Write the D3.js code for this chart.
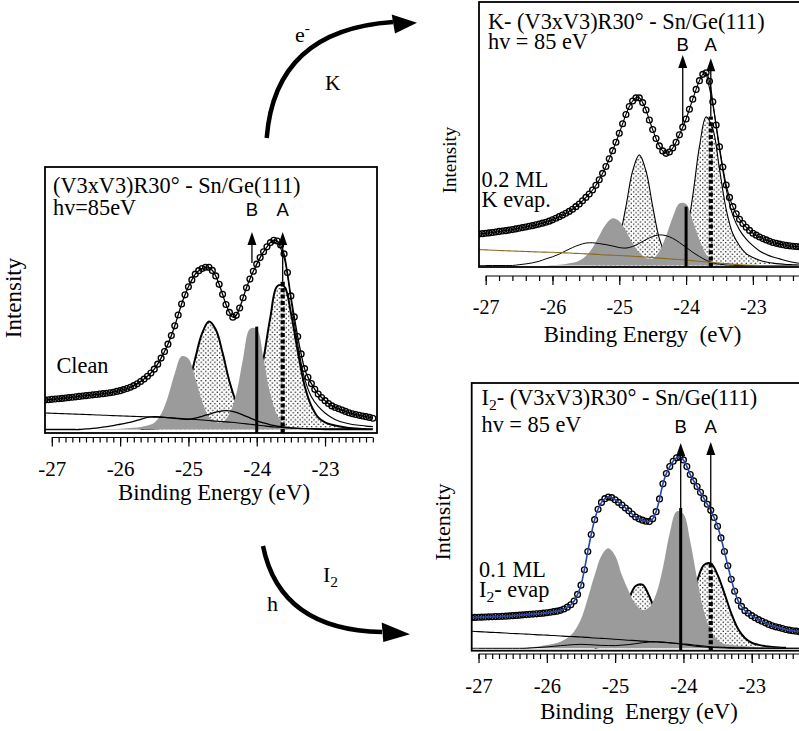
<!DOCTYPE html>
<html lang="en">
<head>
<meta charset="utf-8">
<style>
  body { margin: 0; background: #fff; }
  svg { display: block; }
</style>
</head>
<body>
<svg width="799" height="731"></svg>
<script src="https://d3js.org/d3.v7.min.js"></script>
<script>
var SERIF = '"Liberation Serif", "DejaVu Serif", "Times New Roman", serif';
var SANS = '"Liberation Sans", Arial, sans-serif';

// binding energy grid (eV) of the fitted components, one value per 0.1 eV
var energy = [-27.1, -27.0, -26.9, -26.8, -26.7, -26.6, -26.5, -26.4, -26.3, -26.2,
  -26.1, -26.0, -25.9, -25.8, -25.7, -25.6, -25.5, -25.4, -25.3, -25.2,
  -25.1, -25.0, -24.9, -24.8, -24.7, -24.6, -24.5, -24.4, -24.3, -24.2,
  -24.1, -24.0, -23.9, -23.8, -23.7, -23.6, -23.5, -23.4, -23.3, -23.2,
  -23.1, -23.0, -22.9, -22.8, -22.7, -22.6, -22.5, -22.4, -22.3];
// measured points are denser: one per 0.05 eV
var dataEnergy = [-27.1, -27.05, -27.0, -26.95, -26.9, -26.85, -26.8, -26.75, -26.7, -26.65,
  -26.6, -26.55, -26.5, -26.45, -26.4, -26.35, -26.3, -26.25, -26.2, -26.15,
  -26.1, -26.05, -26.0, -25.95, -25.9, -25.85, -25.8, -25.75, -25.7, -25.65,
  -25.6, -25.55, -25.5, -25.45, -25.4, -25.35, -25.3, -25.25, -25.2, -25.15,
  -25.1, -25.05, -25.0, -24.95, -24.9, -24.85, -24.8, -24.75, -24.7, -24.65,
  -24.6, -24.55, -24.5, -24.45, -24.4, -24.35, -24.3, -24.25, -24.2, -24.15,
  -24.1, -24.05, -24.0, -23.95, -23.9, -23.85, -23.8, -23.75, -23.7, -23.65,
  -23.6, -23.55, -23.5, -23.45, -23.4, -23.35, -23.3, -23.25, -23.2, -23.15,
  -23.1, -23.05, -23.0, -22.95, -22.9, -22.85, -22.8, -22.75, -22.7, -22.65,
  -22.6, -22.55, -22.5, -22.45, -22.4, -22.35, -22.3];
// the right-hand envelope line only exists from -23.7 eV on
var envEnergy = [-23.7, -23.6, -23.5, -23.4, -23.3, -23.2, -23.1, -23.0, -22.9, -22.8, -22.7, -22.6, -22.5, -22.4, -22.3];

// clean surface (intensity, a.u.)
var cleanData = [11.2, 11.35, 11.5, 11.6, 11.7, 11.85, 12.0, 12.15, 12.3, 12.45,
  12.6, 12.75, 12.9, 13.05, 13.2, 13.35, 13.5, 13.65, 13.8, 14.0,
  14.2, 14.5, 14.8, 15.2, 15.6, 16.1, 16.7, 17.4, 18.3, 19.2,
  20.3, 21.5, 23.0, 24.9, 27.2, 29.7, 32.5, 35.8, 39.5, 43.6,
  47.8, 51.3, 54.4, 57.0, 59.2, 60.5, 61.3, 61.8, 61.8, 60.6,
  58.5, 55.3, 51.5, 47.6, 44.6, 42.8, 43.5, 46.3, 50.2, 54.0,
  57.3, 60.3, 63.0, 65.5, 67.7, 69.6, 71.2, 72.1, 71.8, 70.3,
  66.9, 59.8, 50.9, 42.9, 35.4, 28.8, 23.2, 19.9, 17.5, 15.3,
  13.5, 12.2, 11.0, 9.9, 9.0, 8.4, 7.9, 7.4, 6.9, 6.4,
  6.0, 5.7, 5.4, 5.15, 4.9, 4.6, 4.3];
var cleanGray = [0, 0, 0, 0, 0, 0, 0, 0, 0.1, 0.15, 0.2, 0.3, 0.5, 0.7, 1.0, 1.5, 2.6, 5.9, 12.5, 21.3,
  27.9, 27.0, 19.6, 10.8, 4.9, 3.0, 2.8, 6.0, 13.6, 27.0, 38.3, 38.3, 27.0, 13.4, 5.5, 2.0, 1.0, 0.6, 0.4, 0.3,
  0.2, 0.1, 0, 0, 0, 0, 0, 0, 0];
var cleanDots = [0, 0, 0, 0, 0, 0, 0, 0, 0, 0, 0, 0, 0.1, 0.1, 0.2, 0.3, 0.4, 0.7, 1.7, 4.0,
  8.2, 16.4, 27.1, 36.6, 41.1, 38.1, 29.2, 18.4, 10.6, 6.8, 7.5, 13.9, 27.0, 42.8, 54.6, 54.6, 44.5, 29.8, 16.8, 9.0,
  4.6, 2.7, 1.8, 1.2, 0.8, 0.5, 0.3, 0.2, 0.1];
var cleanThird = [0, 0, 0, 0, 0, 0, 0.2, 0.4, 0.7, 1.1, 1.5, 2.0, 2.5, 3.1, 3.9, 4.6, 4.9, 4.8, 4.5, 4.2,
  4.0, 3.9, 4.3, 5.0, 5.8, 6.6, 7.1, 7.1, 6.5, 5.5, 4.4, 3.3, 2.5, 1.8, 1.3, 0.9, 0.6, 0.4, 0.3, 0.2,
  0.1, 0, 0, 0, 0, 0, 0, 0, 0];
var cleanBg = [6.3, 6.2, 6.1, 6.0, 5.9, 5.8, 5.7, 5.6, 5.5, 5.4, 5.3, 5.2, 5.1, 5.0, 4.9, 4.8, 4.7, 4.6, 4.5, 4.4,
  4.2, 4.0, 3.8, 3.6, 3.4, 3.2, 3.0, 2.8, 2.6, 2.3, 2.0, 1.7, 1.4, 1.1, 0.9, 0.7, 0.55, 0.45, 0.4, 0.35,
  0.3, 0.3, 0.3, 0.3, 0.3, 0.3, 0.3, 0.3, 0.3];
var cleanEnv = [71.8, 65.5, 49.5, 32.5, 19.5, 12.5, 8.8, 6.3, 4.5, 3.2, 2.5, 1.9, 1.6, 1.3, 1.1];

// 0.2 ML K
var kData = [11.9, 12.05, 12.2, 12.35, 12.5, 12.7, 12.9, 13.05, 13.2, 13.4,
  13.6, 13.85, 14.1, 14.35, 14.6, 14.85, 15.1, 15.4, 15.7, 16.05,
  16.4, 16.8, 17.3, 17.9, 18.5, 19.1, 19.8, 20.5, 21.3, 22.3,
  23.3, 24.5, 25.8, 27.1, 28.6, 30.4, 32.5, 34.9, 37.5, 40.4,
  43.5, 46.7, 50.1, 53.7, 57.2, 60.2, 62.3, 63.5, 63.5, 61.7,
  58.9, 55.1, 51.5, 48.1, 45.3, 43.4, 42.5, 43.0, 44.5, 46.7,
  49.5, 52.4, 55.5, 59.2, 63.0, 66.7, 70.0, 72.4, 73.0, 69.8,
  62.0, 53.2, 45.0, 37.3, 30.5, 25.8, 22.3, 19.6, 17.5, 15.9,
  14.5, 13.3, 12.2, 11.5, 10.8, 10.2, 9.7, 9.2, 8.7, 8.4,
  8.1, 7.85, 7.6, 7.45, 7.3, 7.2, 7.1];
var kGray = [0, 0, 0, 0, 0, 0, 0, 0, 0, 0, 0, 0.2, 0.3, 0.6, 1.0, 1.8, 3.6, 6.7, 11.3, 15.6,
  17.9, 16.8, 13.1, 8.4, 4.9, 2.8, 2.6, 5.4, 11.2, 18.3, 23.5, 23.3, 16.9, 9.8, 4.3, 1.5, 0.4, 0.1, 0, 0,
  0, 0, 0, 0, 0, 0, 0, 0, 0];
var kDots = [0, 0, 0, 0, 0, 0, 0, 0, 0, 0, 0, 0, 0, 0, 0, 0, 0, 0.1, 0.4, 1.1,
  3.7, 10.2, 22.4, 35.8, 41.9, 35.8, 22.4, 10.2, 4.1, 2.3, 4.3, 11.5, 26.4, 45.0, 56.3, 51.8, 36.6, 21.3, 12.0, 7.5,
  4.5, 3.0, 2.0, 1.3, 0.9, 0.6, 0.4, 0.3, 0.2];
var kThird = [0, 0, 0, 0, 0, 0, 0.3, 0.6, 1.0, 1.6, 2.5, 3.3, 4.3, 5.6, 6.8, 7.8, 8.5, 8.6, 8.3, 7.9,
  7.4, 6.8, 6.6, 7.2, 8.4, 9.8, 11.0, 11.6, 11.3, 10.3, 8.7, 6.9, 5.0, 3.4, 2.0, 1.0, 0.5, 0.2, 0.1, 0,
  0, 0, 0, 0, 0, 0, 0, 0, 0];
var kBg = [6.0, 5.9, 5.8, 5.7, 5.6, 5.5, 5.4, 5.3, 5.2, 5.1, 5.05, 5.0, 4.9, 4.8, 4.65, 4.55, 4.4, 4.3, 4.15, 4.0,
  3.9, 3.8, 3.65, 3.5, 3.35, 3.2, 3.0, 2.8, 2.6, 2.4, 2.25, 2.1, 1.85, 1.6, 1.35, 1.15, 0.9, 0.7, 0.5, 0.3,
  0.15, 0.1, 0, 0, 0, 0, 0, 0, 0];
var kEnv = [73, 61, 44, 29, 19, 13.5, 10, 7.5, 5.5, 4.2, 3.2, 2.5, 1.8, 1.2, 0.8];

// 0.1 ML I2
var iData = [11.6, 11.65, 11.7, 11.75, 11.8, 11.85, 11.9, 11.95, 12.0, 12.05,
  12.1, 12.2, 12.3, 12.4, 12.5, 12.6, 12.7, 12.8, 12.9, 13.0,
  13.1, 13.25, 13.4, 13.6, 13.8, 14.0, 14.3, 14.8, 15.5, 16.4,
  17.8, 20.3, 23.8, 29.6, 36.5, 42.9, 48.5, 52.4, 55.0, 56.4,
  57.0, 56.8, 56.0, 55.0, 54.0, 52.9, 51.8, 50.6, 49.5, 48.8,
  48.3, 47.9, 47.8, 48.8, 51.5, 56.3, 62.0, 65.9, 68.5, 70.5,
  71.8, 72.0, 71.0, 68.5, 65.5, 63.1, 61.0, 58.8, 56.5, 54.3,
  52.0, 49.3, 46.0, 41.6, 36.5, 31.1, 26.0, 21.5, 18.0, 15.8,
  14.2, 13.2, 12.3, 11.5, 10.8, 10.2, 9.6, 9.0, 8.5, 8.1,
  7.8, 7.45, 7.1, 6.85, 6.6, 6.45, 6.3];
var iGray = [0, 0, 0, 0, 0, 0, 0, 0, 0.3, 0.5, 0.8, 1.2, 1.7, 2.5, 3.9, 6.3, 11.0, 18.9, 27.5, 34.9,
  37.7, 34.9, 27.5, 21.5, 16.5, 14.5, 15.5, 20.5, 30.4, 43.5, 51.6, 50.6, 40.3, 26.2, 13.9, 6.8, 3.1, 1.6, 1.3, 1.0,
  0.8, 0.6, 0.5, 0.4, 0.3, 0.2, 0.1, 0, 0];
var iDots = [0, 0, 0, 0, 0, 0, 0, 0, 0, 0, 0, 0, 0, 0, 0, 0, 0, 0, 0.2, 0.7,
  2.4, 5.8, 11.5, 18.4, 23.5, 24.0, 19.6, 13.0, 7.3, 4.5, 5.3, 9.5, 17.2, 25.3, 31.4, 32.0, 27.7, 20.7, 13.2, 7.3,
  3.9, 2.1, 1.3, 0.8, 0.5, 0.3, 0.2, 0.1, 0.1];
var iThird = [0, 0, 0, 0, 0, 0, 0, 0, 0, 0.2, 0.35, 0.5, 0.75, 1.0, 1.2, 1.4, 1.5, 1.4, 1.25, 1.1,
  1.05, 1.0, 1.2, 1.4, 1.75, 2.1, 2.35, 2.5, 2.4, 2.1, 1.8, 1.4, 1.05, 0.7, 0.5, 0.3, 0.2, 0.1, 0, 0,
  0, 0, 0, 0, 0, 0, 0, 0, 0];
var iBg = [6.4, 6.3, 6.15, 6.0, 5.9, 5.75, 5.6, 5.5, 5.35, 5.2, 5.05, 4.95, 4.8, 4.65, 4.5, 4.4, 4.25, 4.1, 3.9, 3.75,
  3.6, 3.4, 3.25, 3.05, 2.9, 2.7, 2.55, 2.4, 2.2, 2.05, 1.9, 1.65, 1.4, 1.1, 0.85, 0.6, 0.45, 0.35, 0.25, 0.2,
  0.15, 0.1, 0, 0, 0, 0, 0, 0, 0];

var majorTicks = [-27, -26, -25, -24, -23];

// A / B component markers: energy of arrow and bar, bar top, arrow start, arrow tip
var cleanMarks = [
  { label: 'B', arrowE: -24.07, barE: -24.0, barTop: 39.2, from: 63.4, tip: 75.2, dashed: false },
  { label: 'A', arrowE: -23.62, barE: -23.62, barTop: 56.3, from: 56.3, tip: 75.2, dashed: true }
];
var kMarks = [
  { label: 'B', arrowE: -24.05, barE: -24.0, barTop: 22.3, from: 53.2, tip: 79.7, dashed: false },
  { label: 'A', arrowE: -23.63, barE: -23.63, barTop: 56.4, from: 56.4, tip: 78.5, dashed: true }
];
var iMarks = [
  { label: 'B', arrowE: -24.04, barE: -24.04, barTop: 52.9, from: 52.9, tip: 77.4, dashed: false },
  { label: 'A', arrowE: -23.60, barE: -23.60, barTop: 32.0, from: 32.0, tip: 77.8, dashed: true }
];

var panels = [
  { name: 'clean', left: 45, right: 377, top: 167, bottom: 433, zeroY: 429.5, ppu: 2.625, ppe: 68.3,
    axisY: 437.5, minorStep: 0.1, minorEnd: -22.3, tickFont: 21, labelY: 476,
    xTitle: 'Binding Energy (eV)', xTitleX: 214, xTitleY: 500,
    yTitleX: 21, yTitleY: 298, yFont: 23,
    data: cleanData, gray: cleanGray, dots: cleanDots, third: cleanThird, bg: cleanBg, env: cleanEnv, marks: cleanMarks,
    bgColor: '#000', fitColor: '#000', fitW: 1.3, outlineW: 2, thirdW: 1.3,
    texts: [
      { x: 53, y: 193, parts: ['(V3xV3)R30\u00b0 - Sn/Ge(111)'] },
      { x: 53, y: 215, parts: ['hv=85eV'] },
      { x: 56.5, y: 373, parts: ['Clean'] }
    ] },
  { name: 'k', left: 479, right: 830, top: 2, bottom: 267, zeroY: 265.5, ppu: 2.64, ppe: 66.8,
    axisY: 276, minorStep: 0.2, minorEnd: -22.2, tickFont: 20, labelY: 313.5,
    xTitle: 'Binding Energy  (eV)', xTitleX: 642.5, xTitleY: 341.5,
    yTitleX: 456, yTitleY: 160, yFont: 19,
    data: kData, gray: kGray, dots: kDots, third: kThird, bg: kBg, env: kEnv, marks: kMarks,
    bgColor: '#8a6a1e', fitColor: '#000', fitW: 1.1, outlineW: 1.1, thirdW: 1,
    texts: [
      { x: 488, y: 29, parts: ['K- (V3xV3)R30\u00b0 - Sn/Ge(111)'] },
      { x: 488, y: 49, parts: ['hv = 85 eV'] },
      { x: 481.5, y: 186.5, parts: ['0.2 ML'] },
      { x: 481.5, y: 206.5, parts: ['K evap.'] }
    ] },
  { name: 'i2', left: 471.7, right: 830, top: 383, bottom: 650.7, zeroY: 648.3, ppu: 2.653, ppe: 68.3,
    axisY: 654, minorStep: 0.1, minorEnd: -22.3, tickFont: 20.5, labelY: 693.3,
    xTitle: 'Binding  Energy (eV)', xTitleX: 639, xTitleY: 718.5,
    yTitleX: 450, yTitleY: 522, yFont: 22,
    data: iData, gray: iGray, dots: iDots, third: iThird, bg: iBg, env: null, marks: iMarks,
    bgColor: '#000', fitColor: '#2a45a8', fitW: 1.6, outlineW: 2, thirdW: 1,
    texts: [
      { x: 481.5, y: 405, parts: ['I', { sub: '2' }, '- (V3xV3)R30\u00b0 - Sn/Ge(111)'] },
      { x: 481.5, y: 432, parts: ['hv = 85 eV'] },
      { x: 479, y: 577, parts: ['0.1 ML'] },
      { x: 479, y: 597, parts: ['I', { sub: '2' }, '- evap'] }
    ] }
];

var svg = d3.select('svg');
var defs = svg.append('defs');

var pat = defs.append('pattern').attr('id', 'dots')
  .attr('width', 4.6).attr('height', 4.6).attr('patternUnits', 'userSpaceOnUse');
pat.append('circle').attr('cx', 1.15).attr('cy', 1.15).attr('r', 0.75).attr('fill', '#000');
pat.append('circle').attr('cx', 3.45).attr('cy', 3.45).attr('r', 0.75).attr('fill', '#000');

function richText(g, x, y, parts, size) {
  var t = g.append('text').style('font-family', SERIF).attr('x', x).attr('y', y).attr('font-size', size);
  var shifted = false;
  parts.forEach(function (p) {
    if (typeof p === 'string') {
      t.append('tspan').attr('dy', shifted ? -5 : 0).text(p);
      shifted = false;
    } else if (p.sub) {
      t.append('tspan').attr('dy', 5).attr('font-size', size * 0.7).text(p.sub);
      shifted = true;
    } else if (p.sup) {
      t.append('tspan').attr('dy', -9).attr('font-size', size * 0.7).text(p.sup);
    }
  });
  return t;
}

function arrowHead(g, x, yTip, w, h) {
  g.append('path')
    .attr('d', 'M' + x + ',' + yTip + 'L' + (x - w / 2) + ',' + (yTip + h) + 'L' + (x + w / 2) + ',' + (yTip + h) + 'Z')
    .attr('fill', '#000');
}

panels.forEach(function (p, pi) {
  var e0 = -27.1;
  var x = d3.scaleLinear().domain([e0, e0 + (p.right - p.left) / p.ppe]).range([p.left, p.right]);
  var y = d3.scaleLinear().domain([0, 100]).range([p.zeroY, p.zeroY - 100 * p.ppu]);
  var g = svg.append('g');

  defs.append('clipPath').attr('id', 'clip' + pi).append('rect')
    .attr('x', p.left).attr('y', p.top).attr('width', p.right - p.left).attr('height', p.bottom - p.top);
  var plot = g.append('g').attr('clip-path', 'url(#clip' + pi + ')');

  var curve = d3.curveCatmullRom.alpha(0.5);
  var line = d3.line().x(function (d) { return x(d[0]); }).y(function (d) { return y(d[1]); }).curve(curve);
  var area = d3.area().x(function (d) { return x(d[0]); }).y0(y(0)).y1(function (d) { return y(d[1]); }).curve(curve);

  var dots = d3.zip(energy, p.dots);
  plot.append('path').attr('d', area(dots)).attr('fill', 'url(#dots)');
  plot.append('path').attr('d', line(dots.filter(function (d) { return d[1] > 0.15; })))
    .attr('fill', 'none').attr('stroke', '#000').attr('stroke-width', p.outlineW);

  plot.append('path').attr('d', area(d3.zip(energy, p.gray))).attr('fill', '#9b9b9b');

  plot.append('path').attr('d', line(d3.zip(energy, p.third)))
    .attr('fill', 'none').attr('stroke', '#000').attr('stroke-width', p.thirdW);
  plot.append('path').attr('d', line(d3.zip(energy, p.bg)))
    .attr('fill', 'none').attr('stroke', p.bgColor).attr('stroke-width', 1.1);
  if (p.env) {
    plot.append('path').attr('d', line(d3.zip(envEnergy, p.env)))
      .attr('fill', 'none').attr('stroke', '#000').attr('stroke-width', 1.1);
  }

  var pts = d3.zip(dataEnergy, p.data);
  plot.selectAll('circle.pt').data(pts).enter().append('circle').attr('class', 'pt')
    .attr('cx', function (d) { return x(d[0]); })
    .attr('cy', function (d) { return y(d[1]); })
    .attr('r', 2.9).attr('fill', 'none').attr('stroke', '#000').attr('stroke-width', 1.35);
  plot.append('path').attr('d', line(pts))
    .attr('fill', 'none').attr('stroke', p.fitColor).attr('stroke-width', p.fitW);

  // A / B markers
  p.marks.forEach(function (m) {
    g.append('line').attr('x1', x(m.barE)).attr('x2', x(m.barE))
      .attr('y1', p.bottom).attr('y2', y(m.barTop))
      .attr('stroke', '#000').attr('stroke-width', m.dashed ? 4.2 : 3)
      .attr('stroke-dasharray', m.dashed ? '4,2.4' : null);
    g.append('line').attr('x1', x(m.arrowE)).attr('x2', x(m.arrowE))
      .attr('y1', y(m.from)).attr('y2', y(m.tip) + 10)
      .attr('stroke', '#000').attr('stroke-width', 1.3);
    arrowHead(g, x(m.arrowE), y(m.tip), 9, 13);
    g.append('text').style('font-family', SANS).attr('x', x(m.arrowE)).attr('y', y(81.2))
      .attr('text-anchor', 'middle').attr('font-size', 18.5).text(m.label);
  });

  p.texts.forEach(function (t) { richText(g, t.x, t.y, t.parts, 22.3); });

  // frame
  g.append('rect').attr('x', p.left).attr('y', p.top)
    .attr('width', p.right - p.left).attr('height', p.bottom - p.top)
    .attr('fill', 'none').attr('stroke', '#000').attr('stroke-width', 1.8);

  // bottom axis: minor and major ticks hanging from a line that starts at -27
  var nMinor = Math.round((p.minorEnd - majorTicks[0]) / p.minorStep);
  var minor = d3.range(nMinor + 1).map(function (i) { return +(majorTicks[0] + i * p.minorStep).toFixed(2); });
  var ax = g.append('g').attr('transform', 'translate(0,' + p.axisY + ')');
  ax.append('g').call(d3.axisBottom(x).tickValues(minor).tickSize(5).tickFormat(''))
    .call(function (s) { s.select('.domain').remove(); });
  var maj = ax.append('g').call(d3.axisBottom(x).tickValues(majorTicks).tickSize(9).tickFormat(d3.format('d')))
    .call(function (s) { s.select('.domain').remove(); });
  ax.selectAll('.tick line').attr('stroke-width', 1.2);
  maj.selectAll('text').style('font-family', SERIF).attr('font-size', p.tickFont)
    .attr('y', p.labelY - p.axisY).attr('dy', 0).text(function (d) { return '-' + Math.abs(d); });
  ax.append('line').attr('x1', x(majorTicks[0])).attr('x2', x(p.minorEnd))
    .attr('stroke', '#000').attr('stroke-width', 1.2);

  g.append('text').style('font-family', SERIF).attr('x', p.xTitleX).attr('y', p.xTitleY)
    .attr('text-anchor', 'middle').attr('font-size', 22.8).style('white-space', 'pre').text(p.xTitle);
  g.append('text').style('font-family', SERIF)
    .attr('transform', 'translate(' + p.yTitleX + ',' + p.yTitleY + ') rotate(-90)')
    .attr('text-anchor', 'middle').attr('font-size', p.yFont).text('Intensity');
});

// curved arrows between the panels
var arrows = svg.append('g');
arrows.append('path').attr('d', 'M266.7,138 Q275,30 393,22')
  .attr('fill', 'none').attr('stroke', '#000').attr('stroke-width', 4.5);
arrows.append('path').attr('d', 'M391.7,14.5 L395,33.5 L417,22.7 Z').attr('fill', '#000');
arrows.append('path').attr('d', 'M263,546 Q280,630 382,632')
  .attr('fill', 'none').attr('stroke', '#000').attr('stroke-width', 4.5);
arrows.append('path').attr('d', 'M381.7,622.5 L383.3,642 L410,634.3 Z').attr('fill', '#000');

richText(arrows, 295, 41.7, ['e', { sup: '-' }], 22);
richText(arrows, 325, 90, ['K'], 21.5);
richText(arrows, 323, 582, ['I', { sub: '2' }], 22);
richText(arrows, 267, 611, ['h'], 22);
</script>
</body>
</html>
